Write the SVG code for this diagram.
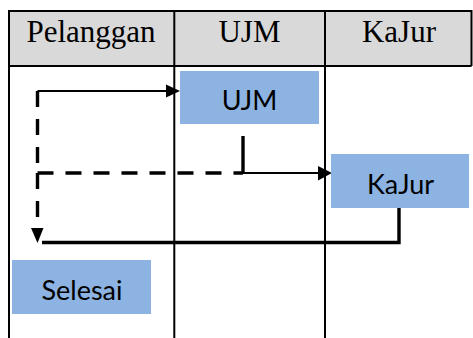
<svg xmlns="http://www.w3.org/2000/svg" width="473" height="338" viewBox="0 0 473 338">
<style>
.grid{stroke:#000;stroke-width:2;fill:none}
.hdr{font-family:"Liberation Serif","Times New Roman",serif;font-size:31px;fill:#000;text-anchor:middle}
.box{fill:#8db3e2}
.lbl{font-family:Lato,"Noto Sans",sans-serif;font-size:27px;fill:#000;text-anchor:middle}
.solid{stroke:#000;fill:none;stroke-width:2.2}
.thick{stroke:#000;fill:none;stroke-width:3.4}
.dash{stroke:#000;fill:none;stroke-width:3.4;stroke-dasharray:16 12}
.head{fill:#000}
</style>
<g id="table">
<rect x="9" y="11" width="462.5" height="55" fill="#d9d9d9"/>
<path class="grid" d="M9,338 V11 H471.5 V66 M9,66 H471.5 M174.3,11 V338 M325,11 V338"/>
<text class="hdr" x="91" y="42">Pelanggan</text>
<text class="hdr" x="249.5" y="42">UJM</text>
<text class="hdr" x="399" y="42">KaJur</text>
</g>
<g id="connectors">
<path class="solid" d="M37.5,91 H167"/>
<polygon class="head" points="166,84.5 180,91 166,97.5"/>
<path class="dash" d="M37.5,91 V173"/>
<path class="dash" d="M37.5,173 H243"/>
<path class="dash" d="M37.5,173 V226"/>
<polygon class="head" points="31,228 43.5,228 37.5,243"/>
<path class="thick" d="M243,136 V173"/>
<path class="solid" d="M243,173 H320"/>
<polygon class="head" points="318,166 318,180.5 332,173"/>
<path class="thick" d="M399,208 V242.5 H42"/>
</g>
<g id="node-ujm">
<rect class="box" x="180" y="71" width="139" height="53"/>
<text class="lbl" x="249.5" y="110">UJM</text>
</g>
<g id="node-kajur">
<rect class="box" x="331" y="154" width="138" height="54"/>
<text class="lbl" x="400.5" y="194">KaJur</text>
</g>
<g id="node-selesai">
<rect class="box" x="12" y="260" width="139" height="54"/>
<text class="lbl" x="82" y="300">Selesai</text>
</g>
</svg>
